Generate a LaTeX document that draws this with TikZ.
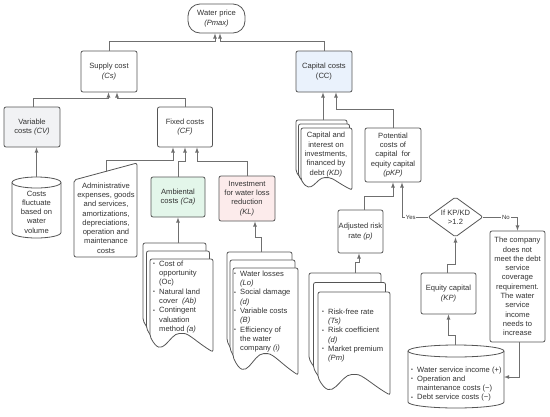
\documentclass[tikz,border=0pt]{standalone}
\usepackage{fontspec}
\setmainfont{Liberation Sans}
\usetikzlibrary{shapes,arrows}

\definecolor{boxc}{HTML}{555555}
\definecolor{linec}{HTML}{6F6F6F}
\definecolor{txtc}{HTML}{333333}
\definecolor{cvfill}{HTML}{F1F2F4}
\definecolor{ccfill}{HTML}{EAF2FC}
\definecolor{ambfill}{HTML}{E3F6EA}
\definecolor{klfill}{HTML}{FCEBEB}

\newcommand{\itm}{\makebox[6pt][l]{\raisebox{0.6pt}{\scalebox{0.7}{\textbullet}}}}
\newcommand{\cnt}{\hspace*{6pt}}
\newcommand{\docpage}[4]{%
  \pgfmathsetmacro{\doch}{#4-#2}
  \pgfmathsetmacro{\docw}{#3-#1}
  \draw[shape line, rounded corners=2pt, fill=white] (#1,#4-0.17*\doch) -- (#1,#2) -- (#3,#2) -- (#3,#4)
    .. controls (#1+0.75*\docw,#4-0.1*\doch) and (#1+0.62*\docw,#4-0.2*\doch) .. (#1+0.5*\docw,#4-0.2*\doch)
    .. controls (#1+0.3*\docw,#4-0.2*\doch) and (#1+0.2*\docw,#4+0.1*\doch) .. cycle;}

\begin{document}
\begin{tikzpicture}[x=1pt, y=-1pt, every node/.style={font=\fontsize{7.6}{9.3}\selectfont, text=txtc}]
	\tikzstyle{shape line} = [draw=boxc, line width=0.8pt]
	\tikzstyle{box} = [shape line, rounded corners=2pt, fill=white, align=center, inner sep=0pt]
	\tikzstyle{txt} = [align=center, inner sep=0pt]
	\tikzstyle{conn} = [draw=linec, line width=0.8pt, -latex]
	\tikzstyle{lbl} = [font=\fontsize{6}{7}\selectfont, fill=white, inner sep=0.8pt]

	\useasboundingbox (0,0) rectangle (550,416);

	% top levels
	\node[box, minimum width=57pt, minimum height=29pt, rounded corners=12pt] (pmax) at (216.5,18.5) {Water price\\\textit{(Pmax)}};
	\node[box, minimum width=56pt, minimum height=41pt] (cs) at (109,71.5) {Supply cost\\\textit{(Cs)}};
	\node[box, minimum width=56pt, minimum height=41pt, fill=ccfill] (cc) at (324,71.5) {Capital costs\\(CC)};
	\node[box, minimum width=56pt, minimum height=40pt, fill=cvfill] (cv) at (32,127) {Variable\\costs \textit{(CV)}};
	\node[box, minimum width=55pt, minimum height=40pt] (cf) at (185,127) {Fixed costs\\\textit{(CF)}};

	% variable cost cylinder
	\draw[shape line, fill=white] (12,182.5) -- (12,232.5) arc[start angle=180, end angle=360, x radius=24.5pt, y radius=5.5pt]
		-- (61,182.5) arc[start angle=0, end angle=180, x radius=24.5pt, y radius=5.5pt] -- cycle;
	\draw[shape line] (12,182.5) arc[start angle=180, end angle=360, x radius=24.5pt, y radius=5.5pt];
	\node[txt] (vol) at (36.5,212) {Costs\\fluctuate\\based on\\water\\volume};
	\coordinate (volTop) at (36.5,177);

	% manual input
	\draw[shape line, rounded corners=2pt, fill=white] (74,180) -- (137,163) -- (137,257) -- (74,257) -- cycle;
	\node[txt] (admin) at (106,218) {Administrative\\expenses, goods\\and services,\\amortizations,\\depreciations,\\operation and\\maintenance\\costs};
	\coordinate (adminTop) at (106,171.5);

	\node[box, minimum width=54pt, minimum height=40pt, fill=ambfill] (amb) at (178,197) {Ambiental\\costs \textit{(Ca)}};
	\node[box, minimum width=56pt, minimum height=45pt, fill=klfill] (kl) at (247,198.5) {Investment\\for water loss\\reduction\\\textit{(KL)}};

	% document stacks
	\docpage{143}{243}{206}{336}
	\docpage{146.5}{251}{209.5}{344}
	\docpage{150}{259}{213}{352}
	\node[txt, align=left, anchor=north west] (opp) at (153,260.5) {\itm Cost of\\\cnt opportunity\\\cnt (Oc)\\\itm Natural land\\\cnt cover~~\textit{(Ab)}\\\itm Contingent\\\cnt valuation\\\cnt method \textit{(a)}};
	\coordinate (ambTop) at (178,243);

	\docpage{227}{252}{292}{359}
	\docpage{230}{260}{295}{367}
	\docpage{233}{268}{298}{375}
	\node[txt, align=left, anchor=north west] (loss) at (234,270.5) {\itm Water losses\\\cnt\textit{(Lo)}\\\itm Social damage\\\cnt\textit{(d)}\\\itm Variable costs\\\cnt\textit{(B)}\\\itm Efficiency of\\\cnt the water\\\cnt company \textit{(i)}};
	\coordinate (klTop) at (261,252);

	\docpage{296}{120}{347}{182}
	\docpage{298.5}{124}{349.5}{186}
	\docpage{301}{128}{352}{190}
	\node[txt] (kd) at (326,154.5) {Capital and\\interest on\\investments,\\financed by\\debt \textit{(KD)}};
	\coordinate (kdTop) at (323,120);

	\docpage{309}{273}{381}{376}
	\docpage{313.5}{282.5}{385.5}{385.5}
	\docpage{318}{292}{390}{395}
	\node[txt, align=left, anchor=north west] (rf) at (322,308.5) {\itm Risk-free rate\\\cnt\textit{(Ts)}\\\itm Risk coefficient\\\cnt\textit{(d)}\\\itm Market premium\\\cnt\textit{(Pm)}};
	\coordinate (tsTop) at (355.5,273);

	% right side
	\node[box, minimum width=56pt, minimum height=54pt] (pkp) at (393,155) {Potential\\costs of\\capital\ \ for\\equity capital\\\textit{(pKP)}};
	\node[box, minimum width=45pt, minimum height=43pt] (adj) at (360.5,231.5) {Adjusted risk\\rate \textit{(p)}};
	\node[box, diamond, aspect=1.375, minimum width=55pt, minimum height=40pt] (dia) at (455.5,217) {If KP/KD\\>1.2};
	\node[box, minimum width=55pt, minimum height=41pt] (eq) at (448.5,293.5) {Equity capital\\\textit{(KP)}};
	\node[box, minimum width=55pt, minimum height=111pt] (co) at (517.5,286.5) {The company\\does not\\meet the debt\\service\\coverage\\requirement.\\The water\\service\\income\\needs to\\increase};

	% income cylinder
	\draw[shape line, fill=white] (408,351) -- (408,402) arc[start angle=180, end angle=360, x radius=48pt, y radius=6pt]
		-- (504,351) arc[start angle=0, end angle=180, x radius=48pt, y radius=6pt] -- cycle;
	\draw[shape line] (408,351) arc[start angle=180, end angle=360, x radius=48pt, y radius=6pt];
	\node[txt, align=left, anchor=west] (income) at (411,384) {\itm Water service income (+)\\\itm Operation and\\\cnt maintenance costs (−)\\\itm Debt service costs (−)};
	\coordinate (incomeTop) at (455,345);
	\coordinate (incomeEast) at (504,377);

	% connectors
	\draw[conn] (cs.north) -- ++(0,-9) -| ([xshift=-1.5pt]pmax.south);
	\draw[conn] (cc.north) -- ++(0,-9) -| ([xshift=3.5pt]pmax.south);
	\draw[conn] ([xshift=1pt]cv.north) -- ++(0,-8) -| ([xshift=-0.5pt]cs.south);
	\draw[conn] (cf.north) -- ++(0,-8) -| ([xshift=8pt]cs.south);
	\draw[conn] (volTop) -- (volTop |- cv.south);
	\draw[conn] (adminTop) -- ++(0,-11.5) -| ([xshift=-12pt]cf.south);
	\draw[conn] (amb.north) -- ++(0,-15) -| (cf.south);
	\draw[conn] (kl.north) -- ++(0,-14) -| ([xshift=12pt]cf.south);
	\draw[conn] (ambTop) -- (amb.south);
	\draw[conn] (klTop) -- ++(0,-15) -| ([xshift=8pt]kl.south);
	\draw[conn] (kdTop) -- (kdTop |- cc.south);
	\draw[conn] (pkp.north) -- ++(0,-18) -| ([xshift=12pt]cc.south);
	\draw[conn] ([xshift=3.5pt]adj.north) -- ++(0,-13) -| (pkp.south);
	\draw[conn] (dia.west) -| node[lbl, pos=0.33] {Yes} ([xshift=9pt]pkp.south);
	\draw[conn] (dia.east) -| node[lbl, pos=0.33] {No} (co.north);
	\draw[conn] (tsTop) -- ++(0,-11) -| ([xshift=-1.5pt]adj.south);
	\draw[conn] (incomeTop) -- ++(0,-10) -| (eq.south);
	\draw[conn] ([xshift=-1.5pt]eq.north) -- ++(0,-8) -| (dia.south);
	\draw[conn] ([xshift=1.5pt]co.south) |- (incomeEast);
\end{tikzpicture}
\end{document}
